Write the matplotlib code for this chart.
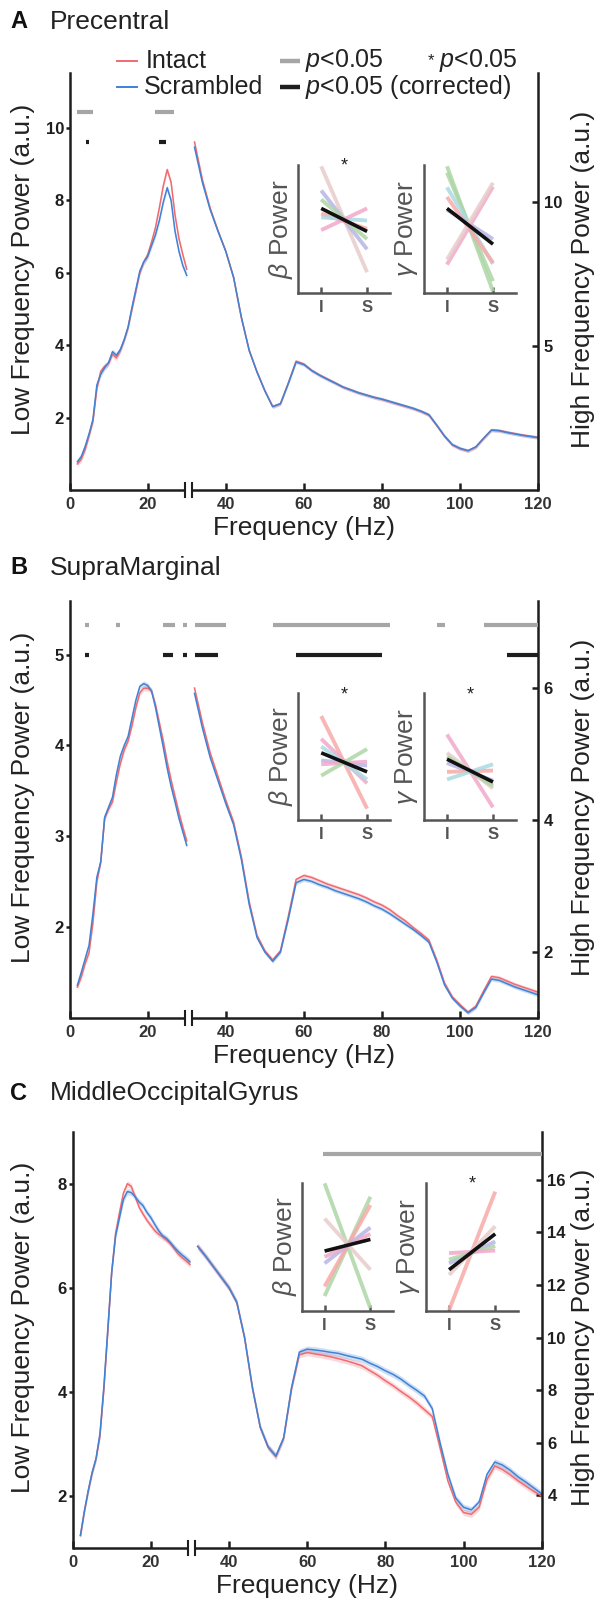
import matplotlib
matplotlib.use("Agg")
import matplotlib.pyplot as plt
from matplotlib.lines import Line2D
import numpy as np

plt.rcParams["font.family"] = ["Liberation Sans", "DejaVu Sans"]
plt.rcParams["mathtext.fontset"] = "custom"
plt.rcParams["mathtext.rm"] = "Liberation Sans"
plt.rcParams["mathtext.it"] = "Liberation Sans:italic"
plt.rcParams["mathtext.bf"] = "Liberation Sans:bold"

# ---------------- data ----------------
freq_lo = np.arange(2, 31)
freq_hi = np.arange(32, 121, 2)

# panel A - Precentral
a_lo_intact = [0.72, 0.85, 1.12, 1.5, 1.9, 2.8, 3.28, 3.42, 3.5, 3.75, 3.65, 3.85, 4.15, 4.5, 5.0,
               5.5, 6.0, 6.3, 6.5, 6.85, 7.25, 7.8, 8.4, 8.85, 8.5, 7.6, 6.95, 6.5, 6.1]
a_lo_scram = [0.78, 0.92, 1.2, 1.55, 1.95, 2.9, 3.2, 3.38, 3.52, 3.82, 3.72, 3.88, 4.15, 4.5, 5.05,
              5.55, 6.05, 6.3, 6.45, 6.75, 7.05, 7.45, 7.95, 8.35, 8.0, 7.15, 6.6, 6.2, 5.93]
a_hi_scram = [11.92, 10.7, 9.75, 9.0, 8.3, 7.4, 6.0, 4.85, 4.1, 3.45, 2.9, 3.0, 3.7, 4.45, 4.36,
              4.15, 3.99, 3.85, 3.72, 3.58, 3.48, 3.38, 3.3, 3.22, 3.16, 3.08, 3.0, 2.92, 2.84,
              2.74, 2.62, 2.26, 1.88, 1.58, 1.45, 1.37, 1.5, 1.8, 2.08, 2.06, 2.0, 1.95, 1.9, 1.86, 1.82]
a_hi_intact = [12.1, 10.8, 9.8, 9.02, 8.3, 7.38, 5.98, 4.85, 4.1, 3.45, 2.9, 3.0, 3.72, 4.48, 4.38,
               4.16, 4.0, 3.86, 3.72, 3.58, 3.48, 3.38, 3.3, 3.22, 3.15, 3.07, 2.99, 2.91, 2.83,
               2.73, 2.6, 2.24, 1.86, 1.56, 1.43, 1.36, 1.49, 1.8, 2.09, 2.07, 2.01, 1.96, 1.91, 1.87, 1.83]
a_gray = [(2, 6), (22, 26.7)]
a_black = [(4.1, 5.0), (22.9, 24.8)]

# panel B - SupraMarginal
b_lo_intact = [1.34, 1.45, 1.6, 1.72, 2.05, 2.5, 2.72, 3.2, 3.3, 3.38, 3.6, 3.8, 3.95, 4.05, 4.22,
               4.42, 4.58, 4.63, 4.63, 4.6, 4.45, 4.25, 4.05, 3.82, 3.62, 3.44, 3.26, 3.1, 2.95]
b_lo_scram = [1.36, 1.5, 1.65, 1.8, 2.15, 2.55, 2.72, 3.21, 3.32, 3.43, 3.68, 3.88, 4.0, 4.1, 4.3,
              4.5, 4.65, 4.68, 4.66, 4.6, 4.42, 4.2, 3.98, 3.75, 3.55, 3.38, 3.2, 3.05, 2.9]
b_hi_intact = [6.0, 5.48, 5.02, 4.66, 4.3, 3.97, 3.44, 2.76, 2.25, 2.02, 1.88, 2.02, 2.54, 3.1, 3.16,
               3.13, 3.08, 3.03, 2.99, 2.95, 2.91, 2.87, 2.82, 2.76, 2.71, 2.64, 2.55, 2.47, 2.37,
               2.28, 2.18, 1.88, 1.53, 1.32, 1.2, 1.09, 1.18, 1.41, 1.63, 1.61, 1.56, 1.51, 1.47, 1.43, 1.39]
b_hi_scram = [5.92, 5.4, 4.95, 4.6, 4.25, 3.93, 3.4, 2.72, 2.22, 2.0, 1.86, 2.0, 2.5, 3.05, 3.1,
              3.07, 3.02, 2.98, 2.93, 2.89, 2.85, 2.81, 2.76, 2.7, 2.65, 2.58, 2.5, 2.42, 2.34,
              2.25, 2.15, 1.85, 1.5, 1.3, 1.18, 1.08, 1.16, 1.38, 1.59, 1.57, 1.52, 1.47, 1.43, 1.39, 1.35]
b_gray = [(4, 5), (12, 13), (24, 27), (29, 30), (32, 40), (52, 82), (94, 96), (106, 120)]
b_black = [(4, 5), (24, 26.6), (29, 30), (32, 38), (58, 80), (112, 120)]

# panel C - MiddleOccipitalGyrus
c_lo_intact = [1.24, 1.7, 2.1, 2.45, 2.72, 3.15, 4.05, 5.15, 6.3, 7.05, 7.45, 7.82, 8.0, 7.95, 7.75,
               7.55, 7.42, 7.3, 7.2, 7.1, 7.03, 6.98, 6.92, 6.85, 6.75, 6.65, 6.58, 6.52, 6.45]
c_lo_scram = [1.24, 1.7, 2.1, 2.45, 2.72, 3.2, 4.1, 5.2, 6.3, 7.0, 7.35, 7.7, 7.85, 7.83, 7.75,
              7.65, 7.58, 7.45, 7.35, 7.22, 7.1, 7.0, 6.95, 6.87, 6.78, 6.7, 6.63, 6.57, 6.5]
c_hi_intact = [13.47, 13.1, 12.7, 12.3, 11.9, 11.33, 9.98, 8.08, 6.58, 5.83, 5.48, 6.18, 8.05, 9.35, 9.43,
               9.38, 9.33, 9.27, 9.2, 9.12, 9.03, 8.93, 8.75, 8.57, 8.36, 8.17, 7.95, 7.75, 7.52,
               7.26, 7.0, 5.8, 4.55, 3.75, 3.35, 3.28, 3.55, 4.6, 5.12, 4.98, 4.78, 4.55, 4.35, 4.15, 3.98]
c_hi_scram = [13.47, 13.1, 12.7, 12.3, 11.9, 11.35, 10.0, 8.1, 6.6, 5.85, 5.5, 6.2, 8.1, 9.45, 9.56,
              9.53, 9.49, 9.44, 9.4, 9.32, 9.25, 9.18, 9.03, 8.9, 8.74, 8.6, 8.42, 8.2, 8.0,
              7.78, 7.3, 6.0, 4.8, 3.9, 3.55, 3.45, 3.75, 4.8, 5.27, 5.15, 4.95, 4.7, 4.5, 4.28, 4.06]
c_gray = [(64, 120)]
c_black = []

# error band half widths (sem)
sem_a = (0.08, 0.06)
sem_b = (0.03, 0.03)
sem_c = (0.06, 0.12)

# inset subject lines: (intact, scrambled) normalised power, colour name
a_beta = [(0.99, 0.16, "rosy"), (0.80, 0.34, "lavender"), (0.73, 0.42, "green"), (0.62, 0.50, "salmon"),
          (0.59, 0.565, "lightblue"), (0.49, 0.66, "pink")]
a_gamma = [(0.99, 0.01, "green"), (0.94, 0.09, "green"), (0.825, 0.225, "lightblue"), (0.75, 0.235, "salmon"),
           (0.65, 0.42, "lavender"), (0.22, 0.83, "pink"), (0.26, 0.86, "rosy")]
b_beta = [(0.82, 0.09, "salmon"), (0.64, 0.29, "pink"), (0.58, 0.32, "lightblue"), (0.47, 0.43, "lavender"),
          (0.44, 0.46, "pink"), (0.35, 0.56, "green")]
b_gamma = [(0.675, 0.10, "pink"), (0.53, 0.25, "rosy"), (0.50, 0.27, "green"), (0.45, 0.31, "lavender"),
           (0.38, 0.39, "salmon"), (0.32, 0.44, "lightblue")]
c_beta = [(0.995, 0.02, "green"), (0.115, 0.89, "green"), (0.19, 0.825, "salmon"), (0.72, 0.32, "rosy"),
          (0.37, 0.65, "lavender"), (0.42, 0.60, "pink")]
c_gamma = [(0.005, 0.93, "salmon"), (0.28, 0.66, "rosy"), (0.37, 0.54, "lavender"), (0.40, 0.505, "green"),
           (0.45, 0.47, "pink")]
mean_a = ((0.66, 0.48), (0.66, 0.38))
mean_b = ((0.53, 0.38), (0.48, 0.30))
mean_c = ((0.466, 0.557), (0.32, 0.60))
stars_a = (True, False)
stars_b = (True, True)
stars_c = (False, True)

subject_colors = {"pink": "#f2a9cb", "lavender": "#b7b5e6", "green": "#aed6a6",
                  "lightblue": "#aadbe2", "salmon": "#f7aaa8", "rosy": "#e8cccb"}

RED = "#f06a70"
BLUE = "#3f82d6"
GRAY = "#a6a6a6"
DARK = "#1e1e1e"
INSET = "#555555"

W, H = 599, 1599
fig = plt.figure(figsize=(W / 100, H / 100), dpi=100)


def px_axes(l, t, r, b):
    return fig.add_axes([l / W, 1 - b / H, (r - l) / W, (b - t) / H])


def ftext(x, y, s, **kw):
    return fig.text(x / W, 1 - y / H, s, **kw)


def fline(x0, x1, y, **kw):
    fig.add_artist(Line2D([x0 / W, x1 / W], [1 - y / H, 1 - y / H], **kw))


def main_panel(box, lo_i, lo_s, hi_i, hi_s, sem, ylo, yhi, tlo, thi, gray, black, ygray, yblack):
    l, t, r, b = box
    ax = px_axes(l, t, r, b)
    ax2 = ax.twinx()
    for y, c in ((lo_i, RED), (lo_s, BLUE)):
        y = np.array(y)
        ax.fill_between(freq_lo, y - sem[0], y + sem[0], color=c, alpha=0.25, lw=0)
        ax.plot(freq_lo, y, color=c, lw=1.1)
    for y, c in ((hi_i, RED), (hi_s, BLUE)):
        y = np.array(y)
        ax2.fill_between(freq_hi, y - sem[1], y + sem[1], color=c, alpha=0.25, lw=0)
        ax2.plot(freq_hi, y, color=c, lw=1.1)
    for x0, x1 in gray:
        ax.plot([x0, x1], [ygray, ygray], color=GRAY, lw=3, solid_capstyle="butt", clip_on=False)
    for x0, x1 in black:
        ax.plot([x0, x1], [yblack, yblack], color=DARK, lw=3, solid_capstyle="butt", clip_on=False)

    ax.set_xlim(0, 120)
    ax.set_ylim(*ylo)
    ax2.set_ylim(*yhi)
    for a in (ax, ax2):
        for s in ("top", "bottom"):
            a.spines[s].set_visible(False)
    ax.spines["right"].set_visible(False)
    ax2.spines["left"].set_visible(False)
    ax.spines["left"].set_linewidth(1.8)
    ax2.spines["right"].set_linewidth(1.8)
    ax.spines["left"].set_color(DARK)
    ax2.spines["right"].set_color(DARK)

    # broken x axis
    tr = ax.get_xaxis_transform()
    for x0, x1 in ((0, 29.6), (31.3, 120)):
        ax.plot([x0, x1], [0, 0], transform=tr, color=DARK, lw=1.8, clip_on=False, solid_capstyle="butt")
    dy = 7 / (b - t)
    for xb in (29.6, 31.3):
        ax.plot([xb, xb], [-dy, dy], transform=tr, color=DARK, lw=1.5, clip_on=False)

    ax.set_xticks([0, 20, 40, 60, 80, 100, 120])
    ax.tick_params(axis="x", direction="in", length=5, width=1.8, color=DARK, pad=5,
                   labelsize=12, labelcolor="#333333")
    ax.set_yticks(tlo)
    ax.tick_params(axis="y", direction="out", length=3, width=1.8, color=DARK, pad=1,
                   labelsize=12, labelcolor=DARK)
    ax2.set_yticks(thi)
    ax2.tick_params(axis="y", direction="in", length=4, width=1.8, color=DARK, pad=4,
                    labelsize=12, labelcolor=DARK)
    for lab in ax.get_xticklabels() + ax.get_yticklabels() + ax2.get_yticklabels():
        lab.set_fontweight("bold")
    ax.set_zorder(ax2.get_zorder() + 1)
    ax.patch.set_visible(False)

    ftext((l + r) / 2, b + 38, "Frequency (Hz)", fontsize=19, ha="center", va="center", color="#222222")
    ftext(23, (t + b) / 2 - 12, "Low Frequency Power (a.u.)", fontsize=19, rotation=90,
          ha="center", va="center", color="#222222")
    ftext(583, (t + b) / 2 - 2, "High Frequency Power (a.u.)", fontsize=19, rotation=90,
          ha="center", va="center", color="#222222")


def inset(box, lines, mean, label, star):
    l, t, r, b = box
    ax = px_axes(l, t, r, b)
    for vi, vs, cname in lines:
        ax.plot([1, 2], [vi, vs], color=subject_colors[cname], lw=2.8, alpha=0.85,
                solid_capstyle="butt", clip_on=False)
    ax.plot([1, 2], list(mean), color="#111111", lw=2.6, solid_capstyle="butt", clip_on=False)
    ax.set_xlim(0.5, 2.5)
    ax.set_ylim(0, 1)
    for s in ("top", "right"):
        ax.spines[s].set_visible(False)
    for s in ("left", "bottom"):
        ax.spines[s].set_linewidth(1.8)
        ax.spines[s].set_color(INSET)
    ax.set_yticks([])
    ax.set_xticks([1, 2])
    ax.set_xticklabels(["I", "S"], fontweight="bold")
    ax.tick_params(axis="x", direction="in", length=4, width=1.8, color=INSET, pad=5,
                   labelsize=12, labelcolor=INSET)
    ax.patch.set_visible(False)
    ftext(l - 17, (t + b) / 2, label, fontsize=19, rotation=90, ha="center", va="center", color=INSET)
    if star:
        ax.text(1.5, 0.99, "*", fontsize=13, ha="center", va="center", color="#222222")


# ---------------- titles and legend ----------------
for y, letter, name in ((22, "A", "Precentral"), (568, "B", "SupraMarginal"),
                        (1093, "C", "MiddleOccipitalGyrus")):
    ftext(10, y, letter, fontsize=17, fontweight="bold", va="center", color="#111111")
    ftext(50, y, name, fontsize=19, va="center", color="#222222")

fline(117, 137, 61, color=RED, lw=1.4)
fline(117, 137, 87, color=BLUE, lw=1.4)
ftext(146, 61, "Intact", fontsize=18, va="center", color="#222222")
ftext(144, 87, "Scrambled", fontsize=18, va="center", color="#222222")
fline(280, 300, 61, color=GRAY, lw=3.2, solid_capstyle="butt")
fline(280, 300, 87, color=DARK, lw=3.2, solid_capstyle="butt")
ftext(305, 61, "$p$<0.05", fontsize=18, va="center", color="#222222")
ftext(305, 87, "$p$<0.05 (corrected)", fontsize=18, va="center", color="#222222")
ftext(431, 61, "*", fontsize=12, ha="center", va="center", color="#222222")
ftext(439, 61, "$p$<0.05", fontsize=18, va="center", color="#222222")

# ---------------- panels ----------------
main_panel((69.5, 73, 538.3, 490), a_lo_intact, a_lo_scram, a_hi_intact, a_hi_scram, sem_a,
           (0, 11.52), (0, 14.5), [2, 4, 6, 8, 10], [5, 10], a_gray, a_black, 10.43, 9.61)
main_panel((69.5, 601, 538.3, 1018), b_lo_intact, b_lo_scram, b_hi_intact, b_hi_scram, sem_b,
           (1.0, 5.59), (1.0, 7.32), [2, 3, 4, 5], [2, 4, 6], b_gray, b_black, 5.33, 5.0)
main_panel((72.6, 1131.7, 541.7, 1548), c_lo_intact, c_lo_scram, c_hi_intact, c_hi_scram, sem_c,
           (1.0, 9.0), (2.0, 17.83), [2, 4, 6, 8], [4, 6, 8, 10, 12, 14, 16], c_gray, c_black, 8.57, 8.3)

beta_lab = r"$\beta$ Power"
gamma_lab = r"$\gamma$ Power"
inset((298.3, 165, 390, 292.7), a_beta, mean_a[0], beta_lab, stars_a[0])
inset((424, 165, 516, 292.7), a_gamma, mean_a[1], gamma_lab, stars_a[1])
inset((298.3, 693.3, 390, 820), b_beta, mean_b[0], beta_lab, stars_b[0])
inset((424, 693.3, 516, 820), b_gamma, mean_b[1], gamma_lab, stars_b[1])
inset((301.7, 1182.7, 393.3, 1310.7), c_beta, mean_c[0], beta_lab, stars_c[0])
inset((426, 1182.7, 518.3, 1310.7), c_gamma, mean_c[1], gamma_lab, stars_c[1])

fig.savefig("out.png", dpi=100)
